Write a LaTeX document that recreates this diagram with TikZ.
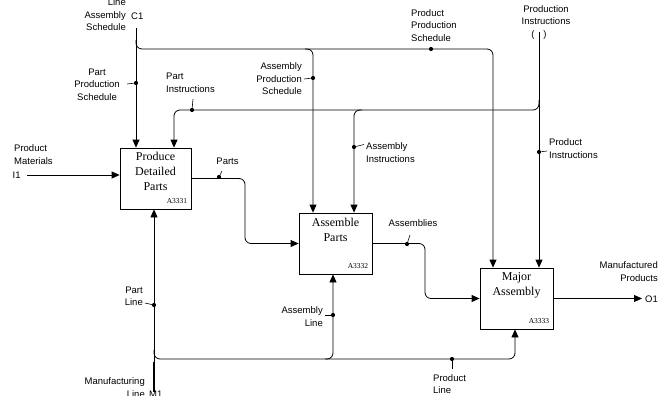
\documentclass[tikz,border=0pt]{standalone}
\usepackage{fontspec}
\setmainfont{Liberation Serif}
\setsansfont{Liberation Sans}
\usetikzlibrary{arrows.meta}
\begin{document}
\begin{tikzpicture}[x=1pt,y=-1pt,
  flow/.style={line width=0.8pt, rounded corners=6pt},
  arr/.style={flow, -{Triangle[length=8pt,width=7pt]}},
  act/.style={draw, line width=0.8pt, minimum height=61pt, inner sep=0pt},
  ttl/.style={font=\fontsize{12}{15}\selectfont, align=center, inner sep=0pt, anchor=north},
  aid/.style={font=\fontsize{7.5}{8}\selectfont, inner sep=0pt, anchor=south east},
  lbl/.style={font=\sffamily\fontsize{9.5}{12.5}\selectfont, inner sep=0pt},
  lblL/.style={lbl, align=left, anchor=west},
  lblR/.style={lbl, align=right, anchor=east},
  lblC/.style={lbl, align=center},
  dotn/.style={circle, fill, inner sep=0pt, minimum size=4.2pt},
  tick/.style={line width=0.6pt}
]
\useasboundingbox (0,0) rectangle (669,396);

% activity boxes
\node[act, minimum width=71pt] (b1) at (155.5,178.5) {};
\node[act, minimum width=73pt] (b2) at (335.5,243.5) {};
\node[act, minimum width=73pt] (b3) at (516.5,298.5) {};
\node[ttl] (t1) at ([yshift=-4.5pt]b1.north) {Produce\\Detailed\\Parts};
\node[ttl] (t2) at ([yshift=-5.5pt]b2.north) {Assemble\\Parts};
\node[ttl] (t3) at ([yshift=-5pt]b3.north) {Major\\Assembly};
\node[aid] (a1) at ([xshift=-4pt,yshift=6pt]b1.south east) {A3331};
\node[aid] (a2) at ([xshift=-4pt,yshift=6pt]b2.south east) {A3332};
\node[aid] (a3) at ([xshift=-4pt,yshift=6pt]b3.south east) {A3333};

% free ends
\coordinate (c1) at (136,28);
\coordinate (pi) at (539,32);
\coordinate (i1) at (27,175);
\coordinate (o1) at (642,298.5);
\coordinate (m1) at (154,392);

% controls
\draw[arr] (c1) -- (c1 |- b1.north);
\draw[arr] (136,40) -- (136,49) -- (493,49) -- (493,0 |- b3.north);
\draw[arr] (305,49) -- (313,49) -- (313,0 |- b2.north);
\draw[arr] (pi) -- (pi |- b3.north);
\draw[arr] (539,100) -- (539,110) -- (174,110) -- (174,0 |- b1.north);
\draw[arr] (362,110) -- (354,110) -- (354,0 |- b2.north);

% inputs / outputs
\draw[arr] (i1) -- (i1 -| b1.west);
\draw[arr] (b1.east) -| (245,210) |- (b2.west);
\draw[arr] (b2.east) -| (425,270) |- (b3.west);
\draw[arr] (b3.east) -- (o1);

% mechanisms
\draw[arr] (m1) -- (m1 |- b1.south);
\draw[arr] (154,350) -- (154,359) -- (515,359) -- (515,0 |- b3.south);
\draw[arr] (325,359) -- (333,359) -- (333,0 |- b2.south);
\draw[line width=1.4pt] (m1) -- (154,362);

% dots
\node[dotn] (d1) at (136,83) {};
\node[dotn] (d2) at (313,78) {};
\node[dotn] (d3) at (431,49) {};
\node[dotn] (d4) at (192,110) {};
\node[dotn] (d5) at (354,147) {};
\node[dotn] (d6) at (539,152) {};
\node[dotn] (d7) at (219,177) {};
\node[dotn] (d8) at (407,244) {};
\node[dotn] (d9) at (154,305) {};
\node[dotn] (d10) at (333,315) {};
\node[dotn] (d11) at (452,359) {};

% labels
\node[lblR] (lc1) at (126,15) {Line\\Assembly\\Schedule};
\node[lbl, anchor=west] (nc1) at (131,16) {C1};
\node[lblC] (lpi) at (546,15) {Production\\Instructions};
\node[lbl] (p1) at (533,35) {(};
\node[lbl] (p2) at (545,35) {)};
\node[lblC] (l1) at (97,84.5) {Part\\Production\\Schedule};
\node[lblR] (l2) at (302,79) {Assembly\\Production\\Schedule};
\node[lblL] (l3) at (411,25.5) {Product\\Production\\Schedule};
\node[lblL] (l4) at (166,83) {Part\\Instructions};
\node[lblL] (l5) at (366,152.5) {Assembly\\Instructions};
\node[lblL] (l6) at (549,148.5) {Product\\Instructions};
\node[lbl] (l7) at (227.5,161) {Parts};
\node[lbl] (l8) at (413,223) {Assemblies};
\node[lblR] (l9) at (658,271.5) {Manufactured\\Products};
\node[lbl, anchor=west] (no1) at (645,299) {O1};
\node[lblL] (l10) at (14,154.5) {Product\\Materials};
\node[lbl, anchor=west] (ni1) at (12.5,175) {I1};
\node[lblR] (l11) at (143,296.5) {Part\\Line};
\node[lblR] (l12) at (323,316.5) {Assembly\\Line};
\node[lblL] (l13) at (433,384) {Product\\Line};
\node[lblR] (l14) at (145,387.5) {Manufacturing\\Line};
\node[lbl, anchor=west] (nm1) at (149,394) {M1};

% ticks
\draw[tick] (127,84) -- (d1);
\draw[tick] (304,79) -- (d2);
\draw[tick] (193,99) -- (d4);
\draw[tick] (364,144.5) -- (d5);
\draw[tick] (547,151) -- (d6);
\draw[tick] (222,171) -- (d7);
\draw[tick] (410,235) -- (d8);
\draw[tick] (145,303) -- (d9);
\draw[tick] (325,315) -- (d10);
\draw[tick] (d11) -- (452,369);
\end{tikzpicture}
\end{document}
